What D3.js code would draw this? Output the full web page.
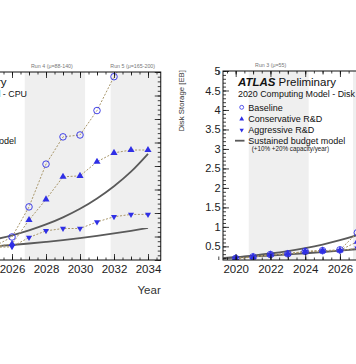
<!DOCTYPE html>
<html><head><meta charset="utf-8">
<script src="https://cdn.jsdelivr.net/npm/d3@7"></script>
<style>body{margin:0;background:#fff} svg{display:block} text{font-family:"Liberation Sans",Arial,Helvetica,sans-serif}</style>
</head><body><svg id="c" width="356" height="364"></svg>
<script>
// ---------- data ----------
const years = [2020,2021,2022,2023,2024,2025,2026,2027,2028,2029,2030,2031,2032,2033,2034];
const budgetYears = [2019.3,2020,2021,2022,2023,2024,2025,2026,2027,2028,2029,2030,2031,2032,2033,2034];
const xTickLabels = [2020,2022,2024,2026,2028,2030,2032,2034];

const cpuBaseline     = [1.6,1.8,2.0,2.3,2.6,3.0,4.9,11.3,20.4,26.2,26.6,31.8,39.0,44.5,48.0];
const cpuConservative = [1.6,1.8,2.0,2.3,2.6,2.9,3.4,8.5,12.9,17.7,17.9,20.9,22.8,23.4,23.4];
const cpuAggressive   = [1.6,1.8,2.0,2.3,2.5,2.7,2.8,4.8,6.2,6.7,6.7,8.1,9.2,9.7,9.7];
const cpuBudget20     = [1.55,1.76,2.11,2.53,3.04,3.65,4.38,5.26,6.31,7.57,9.08,10.9,13.1,15.7,18.8,22.6];
const cpuBudget10     = [1.69,1.8,1.98,2.18,2.40,2.64,2.90,3.19,3.51,3.86,4.24,4.67,5.13,5.65,6.21,6.83];

const diskBaseline     = [0.19,0.23,0.29,0.31,0.37,0.39,0.41,0.85,1.3,1.6,1.7,2.3,3.0,3.3,3.5];
const diskConservative = [0.19,0.23,0.29,0.31,0.37,0.39,0.40,0.62,0.9,1.1,1.15,1.5,1.9,2.1,2.2];
const diskAggressive   = [0.19,0.22,0.28,0.30,0.36,0.38,0.39,0.45,0.6,0.7,0.72,0.9,1.1,1.2,1.25];
const diskBudget20     = [0.194,0.22,0.264,0.317,0.38,0.456,0.547,0.657,0.788,0.946,1.135,1.362,1.634,1.961,2.353,2.824];
const diskBudget10     = [0.206,0.22,0.242,0.266,0.293,0.322,0.354,0.39,0.429,0.472,0.519,0.571,0.628,0.69,0.76,0.835];

const runNames  = ["Run 3 (\u03bc=55)","Run 4 (\u03bc=88-140)","Run 5 (\u03bc=165-200)"];
const runStarts = [2020.75,2026.75,2031.8];
const runEnds   = [2024.2,2030.3,2034.75];

const legendLabels = ["Baseline","Conservative R&D","Aggressive R&D","Sustained budget model"];
const legendNote = "(+10% +20% capacity/year)";
const diskYTicks = [0.5,1,1.5,2,2.5,3,3.5,4,4.5,5];
const cpuYTicks = [0,5,10,15,20,25,30,35,40];

// ---------- drawing ----------
const svg = d3.select("#c");
const BLUE = "#2f2fe6", DASH = "#a8966a", CURVE = "#5a5a5a";
const xDomain = [2019.27, 2034.75];

function chart(id, cfg){
  const x = d3.scaleLinear().domain(xDomain).range(cfg.xRange);
  const y = d3.scaleLinear().domain(cfg.yDomain).range([260, cfg.yTop]);
  const [x0,x1] = cfg.xRange, y0 = 260, y1 = cfg.yTop;
  const g = svg.append("g");
  g.append("clipPath").attr("id","clip"+id).append("rect")
    .attr("x",x0).attr("y",y1).attr("width",x1-x0).attr("height",y0-y1);

  g.selectAll("rect.band").data(runStarts).join("rect").attr("class","band")
    .attr("x",d=>x(d)).attr("y",y1).attr("width",(d,i)=>x(runEnds[i])-x(d)).attr("height",y0-y1)
    .attr("fill","#efefef");
  g.selectAll("text.run").data(runNames).join("text").attr("class","run")
    .attr("x",(d,i)=>x((runStarts[i]+runEnds[i])/2)-(i===0?8:3)).attr("y",y1-4.5)
    .attr("text-anchor","middle").attr("font-size",5.3).attr("fill","#777").text(d=>d);

  const plot = g.append("g").attr("clip-path","url(#clip"+id+")");
  const line = d3.line().x((d,i)=>x(years[i])).y(d=>y(d));
  const bline = d3.line().x((d,i)=>x(budgetYears[i])).y(d=>y(d)).curve(d3.curveMonotoneX);

  [cfg.budget10, cfg.budget20].forEach(s=>{
    plot.append("path").attr("d",bline(s)).attr("fill","none").attr("stroke",CURVE).attr("stroke-width",1.8);
  });
  [cfg.base, cfg.cons, cfg.aggr].forEach(s=>{
    plot.append("path").attr("d",line(s)).attr("fill","none").attr("stroke",DASH)
      .attr("stroke-width",1).attr("stroke-dasharray","2,1.6");
  });
  const circ = d3.symbol().type(d3.symbolCircle).size(34);
  const tri = d3.symbol().type(d3.symbolTriangle).size(22);
  const itri = d3.symbol().type(d3.symbolTriangle).size(16);
  plot.selectAll("path.b").data(cfg.base).join("path").attr("class","b")
    .attr("transform",(d,i)=>`translate(${x(years[i])},${y(d)})`).attr("d",circ)
    .attr("fill","none").attr("stroke",BLUE).attr("stroke-width",0.9);
  plot.selectAll("path.c").data(cfg.cons).join("path").attr("class","c")
    .attr("transform",(d,i)=>`translate(${x(years[i])},${y(d)})`).attr("d",tri).attr("fill",BLUE);
  plot.selectAll("path.a").data(cfg.aggr).join("path").attr("class","a")
    .attr("transform",(d,i)=>`translate(${x(years[i])},${y(d)}) rotate(180)`).attr("d",itri).attr("fill",BLUE);

  const halfYears = d3.range(2019.5, 2034.76, 0.5);
  const oddYears = d3.range(2019, 2035, 1);
  const ax = (gen, tr, vals, size, fmt) => {
    const a = g.append("g").attr("transform",tr).call(gen.tickValues(vals).tickSize(size).tickFormat(fmt||"").tickPadding(5.3));
    a.select(".domain").remove();
    a.selectAll("line").attr("stroke","#111").attr("stroke-width",0.8);
    return a;
  };
  ax(d3.axisBottom(x), `translate(0,${y0})`, halfYears, -2.5);
  ax(d3.axisBottom(x), `translate(0,${y0})`, oddYears, -3.5);
  const xb = ax(d3.axisBottom(x), `translate(0,${y0})`, xTickLabels, -6, d3.format("d"));
  xb.selectAll("text").attr("font-size",11.5).attr("fill","#222");
  ax(d3.axisTop(x), `translate(0,${y1})`, halfYears, -2.5);
  ax(d3.axisTop(x), `translate(0,${y1})`, oddYears, -3.5);
  ax(d3.axisTop(x), `translate(0,${y1})`, xTickLabels, -6);

  const yMinor = d3.range(cfg.yDomain[0] > 0 ? Math.ceil(cfg.yDomain[0]/cfg.minor)*cfg.minor : 0, cfg.yDomain[1]+1e-9, cfg.minor);
  ax(d3.axisLeft(y), `translate(${x0},0)`, yMinor, -3);
  const yl = ax(d3.axisLeft(y), `translate(${x0},0)`, cfg.yTicks, -6, d=>d3.format("")(d));
  yl.selectAll("text").attr("font-size",11).attr("fill","#222").attr("dx",2.8);
  ax(d3.axisRight(y), `translate(${x1},0)`, yMinor, -3);
  ax(d3.axisRight(y), `translate(${x1},0)`, cfg.yTicks, -6);

  g.append("rect").attr("x",x0).attr("y",y1).attr("width",x1-x0).attr("height",y0-y1)
    .attr("fill","none").attr("stroke","#111").attr("stroke-width",1);

  g.append("text").attr("x",x1).attr("y",294).attr("text-anchor","end")
    .attr("font-size",11.5).attr("fill","#333").text("Year");
  g.append("text").attr("transform",`translate(${x0-39},${y1-1}) rotate(-90)`)
    .attr("text-anchor","end").attr("font-size",7.8).attr("fill","#333").text(cfg.yLabel);

  // legend
  const lx = x0 + cfg.legShift;
  const t = g.append("text").attr("x",lx+15).attr("y",85.5).attr("font-size",11.5).attr("fill","#111");
  t.append("tspan").attr("font-weight","bold").attr("font-style","italic").text("ATLAS");
  t.append("tspan").attr("dx",3).text("Preliminary");
  g.append("text").attr("x",lx+15).attr("y",96.8).attr("font-size",8.9).attr("fill","#111").text(cfg.subtitle);
  const ly = [107.3,119,130,140.7];
  g.selectAll("text.leg").data(legendLabels).join("text").attr("class","leg")
    .attr("x",lx+25.3).attr("y",(d,i)=>ly[i]+3.3).attr("font-size",9).attr("fill","#111").text(d=>d);
  g.append("path").attr("transform",`translate(${lx+18.7},${ly[0]})`).attr("d",d3.symbol().type(d3.symbolCircle).size(12))
    .attr("fill","none").attr("stroke",BLUE).attr("stroke-width",0.8);
  g.append("path").attr("transform",`translate(${lx+18.7},${ly[1]})`).attr("d",d3.symbol().type(d3.symbolTriangle).size(10)).attr("fill",BLUE);
  g.append("path").attr("transform",`translate(${lx+18.7},${ly[2]}) rotate(180)`).attr("d",d3.symbol().type(d3.symbolTriangle).size(8)).attr("fill",BLUE);
  g.append("line").attr("x1",lx+12).attr("x2",lx+21.5).attr("y1",ly[3]).attr("y2",ly[3]).attr("stroke",CURVE).attr("stroke-width",1.8);
  g.append("text").attr("x",lx+28.7).attr("y",151.2).attr("font-size",6.3).attr("fill","#222").text(legendNote);
}

chart("cpu", {xRange:[-102.4,160.75], yDomain:[0,40], yTop:72, yTicks:cpuYTicks, minor:1, legShift:-4,
  base:cpuBaseline, cons:cpuConservative, aggr:cpuAggressive, budget20:cpuBudget20, budget10:cpuBudget10,
  subtitle:"2020 Computing Model - CPU", yLabel:"Annual CPU Consumption [MHS06*years]"});
chart("disk", {xRange:[223,492], yDomain:[0.15,5], yTop:71, yTicks:diskYTicks, minor:0.1, legShift:0,
  base:diskBaseline, cons:diskConservative, aggr:diskAggressive, budget20:diskBudget20, budget10:diskBudget10,
  subtitle:"2020 Computing Model - Disk", yLabel:"Disk Storage [EB]"});
</script></body></html>
